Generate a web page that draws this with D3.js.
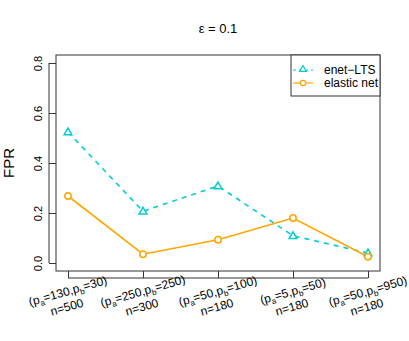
<!DOCTYPE html>
<html>
<head>
<meta charset="utf-8">
<script src="https://cdn.jsdelivr.net/npm/d3@7"></script>
<style>
  body { margin: 0; background: #fff; }
  text { font-family: "Liberation Sans", Arial, sans-serif; fill: #000; }
</style>
</head>
<body>
<div id="chart"></div>
<script>
// Data
const settings = [
  { pa: "130", pb: "30", n: "500" },
  { pa: "250", pb: "250", n: "300" },
  { pa: "50", pb: "100", n: "180" },
  { pa: "5", pb: "50", n: "180" },
  { pa: "50", pb: "950", n: "180" }
];
const enetLTS = [0.524, 0.207, 0.308, 0.109, 0.04];
const elasticNet = [0.268, 0.035, 0.093, 0.18, 0.025];
const yTicks = [0.0, 0.2, 0.4, 0.6, 0.8];
const seriesNames = ["enet\u2212LTS", "elastic net"];

const width = 409, height = 341;
const box = { left: 56, right: 380, top: 55, bottom: 271 };

const svg = d3.select("#chart").append("svg")
  .attr("width", width)
  .attr("height", height);

// scales with R style 4% padding
const x = d3.scaleLinear()
  .domain([1 - 0.16, 5 + 0.16])
  .range([box.left, box.right]);
const y = d3.scaleLinear()
  .domain([-0.032, 0.832])
  .range([box.bottom, box.top]);

const idx = d3.range(settings.length);

// title
svg.append("text")
  .attr("x", (box.left + box.right) / 2)
  .attr("y", 33)
  .attr("text-anchor", "middle")
  .attr("font-size", 13)
  .text("\u03b5 = 0.1");

// plot frame
svg.append("rect")
  .attr("x", box.left)
  .attr("y", box.top)
  .attr("width", box.right - box.left)
  .attr("height", box.bottom - box.top)
  .attr("fill", "none")
  .attr("stroke", "#333")
  .attr("stroke-width", 1);

// y axis
const yAxis = svg.append("g")
  .attr("transform", `translate(${box.left - 7},0)`)
  .call(d3.axisLeft(y).tickValues(yTicks).tickSize(0).tickFormat(""));
yAxis.select(".domain")
  .attr("d", `M0,${y(0)}V${y(0.8)}`)
  .attr("stroke", "#333");
yAxis.selectAll(".tick line")
  .attr("x2", 7)
  .attr("stroke", "#333");
yAxis.selectAll(".tick").append("text")
  .attr("transform", "translate(-7,0) rotate(-90)")
  .attr("text-anchor", "middle")
  .attr("font-size", 11)
  .attr("fill", "#000")
  .text(d => d3.format(".1f")(d));

// y label
svg.append("text")
  .attr("transform", `translate(14,${(box.top + box.bottom) / 2}) rotate(-90)`)
  .attr("text-anchor", "middle")
  .attr("font-size", 15)
  .text("FPR");

// x axis
const xAxis = svg.append("g")
  .attr("transform", `translate(0,${box.bottom + 7})`)
  .call(d3.axisTop(x).tickValues([1, 2, 3, 4, 5]).tickSize(0).tickFormat(""));
xAxis.select(".domain")
  .attr("d", `M${x(1)},0H${x(5)}`)
  .attr("stroke", "#333");
xAxis.selectAll(".tick line")
  .attr("y2", -7)
  .attr("stroke", "#333");

// rotated x labels, each line placed on its own
const xLab = svg.selectAll(".xlab")
  .data(settings)
  .enter()
  .append("g")
  .attr("class", "xlab");

xLab.append("text")
  .attr("transform", (d, i) => `translate(${x(i + 1) + 1},${box.bottom + 24}) rotate(-16)`)
  .attr("text-anchor", "middle")
  .attr("font-size", 12)
  .each(function(d) {
    const t = d3.select(this);
    t.append("tspan").text("(p");
    t.append("tspan").attr("font-size", 8).attr("dy", 3).text("a");
    t.append("tspan").attr("dy", -3).text("=" + d.pa + ",p");
    t.append("tspan").attr("font-size", 8).attr("dy", 3).text("b");
    t.append("tspan").attr("dy", -3).text("=" + d.pb + ")");
  });

xLab.append("text")
  .attr("transform", (d, i) => `translate(${x(i + 1)},${box.bottom + 40}) rotate(-16)`)
  .attr("text-anchor", "middle")
  .attr("font-size", 12)
  .text(d => "n=" + d.n);

// series lines
const line = d3.line()
  .x(i => x(i + 1));

svg.append("path")
  .datum(idx)
  .attr("d", line.y(i => y(enetLTS[i])))
  .attr("fill", "none")
  .attr("stroke", "#00CED1")
  .attr("stroke-width", 1.6)
  .attr("stroke-dasharray", "5,5");

svg.append("path")
  .datum(idx)
  .attr("d", line.y(i => y(elasticNet[i])))
  .attr("fill", "none")
  .attr("stroke", "#FFA500")
  .attr("stroke-width", 1.6);

// markers
const tri = d3.symbol().type(d3.symbolTriangle).size(26);
svg.selectAll(".tri")
  .data(idx)
  .enter()
  .append("path")
  .attr("class", "tri")
  .attr("d", tri)
  .attr("transform", i => `translate(${x(i + 1)},${y(enetLTS[i]) + 0.5})`)
  .attr("fill", "#fff")
  .attr("stroke", "#00CED1")
  .attr("stroke-width", 1.5);

svg.selectAll(".circ")
  .data(idx)
  .enter()
  .append("circle")
  .attr("class", "circ")
  .attr("cx", i => x(i + 1))
  .attr("cy", i => y(elasticNet[i]))
  .attr("r", 3.2)
  .attr("fill", "#fff")
  .attr("stroke", "#FFA500")
  .attr("stroke-width", 1.5);

// legend
const legend = svg.append("g");
legend.append("rect")
  .attr("x", 291)
  .attr("y", box.top)
  .attr("width", box.right - 291)
  .attr("height", 41)
  .attr("fill", "#fff")
  .attr("stroke", "#333")
  .attr("stroke-width", 1);

const legY = [70, 83];
legend.append("line")
  .attr("x1", 293).attr("x2", 313)
  .attr("y1", legY[0]).attr("y2", legY[0])
  .attr("stroke", "#00CED1")
  .attr("stroke-width", 1.2)
  .attr("stroke-dasharray", "3,3");
legend.append("path")
  .attr("d", d3.symbol().type(d3.symbolTriangle).size(20)())
  .attr("transform", `translate(303,${legY[0] - 0.5})`)
  .attr("fill", "#fff")
  .attr("stroke", "#00CED1")
  .attr("stroke-width", 1.2);
legend.append("line")
  .attr("x1", 293).attr("x2", 313)
  .attr("y1", legY[1]).attr("y2", legY[1])
  .attr("stroke", "#FFA500")
  .attr("stroke-width", 1.2);
legend.append("circle")
  .attr("cx", 303).attr("cy", legY[1]).attr("r", 2.6)
  .attr("fill", "#fff")
  .attr("stroke", "#FFA500")
  .attr("stroke-width", 1.2);

legend.selectAll(".legtext")
  .data(seriesNames)
  .enter()
  .append("text")
  .attr("x", 324)
  .attr("y", (d, i) => legY[i] + 4)
  .attr("font-size", 12)
  .text(d => d);
</script>
</body>
</html>
